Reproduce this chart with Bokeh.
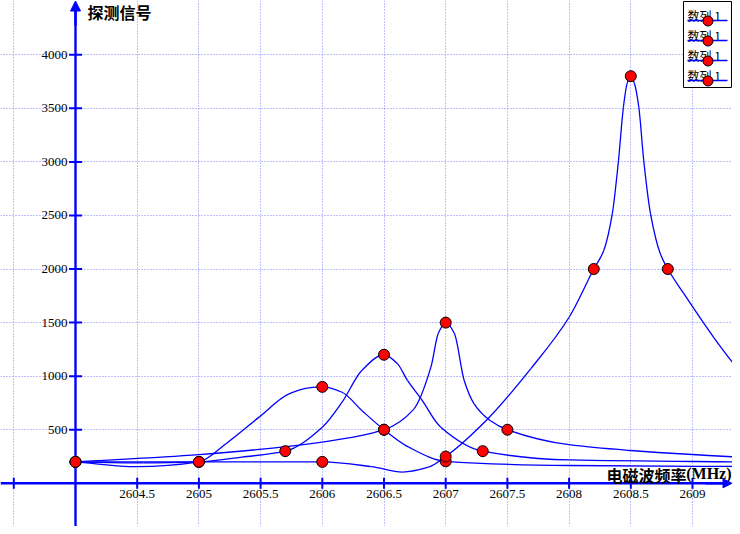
import numpy as np
from bokeh.plotting import figure
from bokeh.models import Range1d, Grid, FixedTicker, Arrow, NormalHead
from bokeh.core.properties import value
from bokeh.embed import file_html
from bokeh.resources import INLINE

# ---------------- data ----------------
# curve traces (marked points included)
a_curve_x = [2604, 2604.5, 2605, 2605.22, 2605.49, 2605.73, 2605.89, 2606, 2606.16, 2606.32, 2606.5, 2606.7, 2607, 2608, 2609.4, 2609.6]
a_curve_y = [200, 155, 200, 370, 620, 835, 890, 900, 850, 680, 500, 337, 205, 166, 157, 156]

b_curve_x = [2604, 2604.55, 2605, 2605.35, 2605.7, 2606, 2606.16, 2606.32, 2606.5, 2606.61, 2606.69, 2606.8, 2606.96, 2607.3, 2608, 2609.4, 2609.6]
b_curve_y = [200, 190, 200, 245, 300, 524, 757, 1053, 1200, 1115, 960, 790, 524, 300, 218, 200, 198]

c_curve_x = [2604, 2605, 2606, 2606.5, 2606.74, 2606.88, 2606.94, 2607, 2607.07, 2607.15, 2607.23, 2607.36, 2607.5, 2608, 2608.5, 2609.4, 2609.6]
c_curve_y = [200, 268, 385, 500, 690, 1084, 1400, 1500, 1400, 959, 742, 587, 500, 360, 306, 244, 236]

d_curve_x = [2604, 2606, 2606.4, 2606.65, 2606.86, 2607, 2607.34, 2607.69, 2608, 2608.2, 2608.28, 2608.35, 2608.4, 2608.44, 2608.47, 2608.5, 2608.53, 2608.565, 2608.605, 2608.66, 2608.74, 2608.8, 2608.93, 2609.17, 2609.39, 2609.6]
d_curve_y = [200, 200, 155, 105, 150, 250, 600, 1070, 1550, 2000, 2170, 2515, 3010, 3510, 3730, 3800, 3730, 3510, 3010, 2515, 2140, 2000, 1770, 1365, 1037, 800]

# marked points
a_pts_x = [2604, 2605, 2606, 2606.5, 2607]
a_pts_y = [200, 200, 900, 500, 205]
b_pts_x = [2605, 2605.7, 2606.5, 2607.3]
b_pts_y = [200, 300, 1200, 300]
c_pts_x = [2604, 2606.5, 2607, 2607.5]
c_pts_y = [200, 500, 1500, 500]
d_pts_x = [2604, 2606, 2607, 2608.2, 2608.5, 2608.8]
d_pts_y = [200, 200, 250, 2000, 3800, 2000]

x_grid_ticks = [2603.5, 2604.5, 2605, 2605.5, 2606, 2606.5, 2607, 2607.5, 2608, 2608.5, 2609]
y_grid_ticks = [500, 1000, 1500, 2000, 2500, 3000, 3500, 4000]
x_tick_marks = [2603.5, 2604.5, 2605, 2605.5, 2606, 2606.5, 2607, 2607.5, 2608, 2608.5, 2609]
x_label_pos = [2604.5, 2605, 2605.5, 2606, 2606.5, 2607, 2607.5, 2608, 2608.5, 2609]
x_labels = ["2604.5", "2605", "2605.5", "2606", "2606.5", "2607", "2607.5", "2608", "2608.5", "2609"]
y_label_pos = [500, 1000, 1500, 2000, 2500, 3000, 3500, 4000]
y_labels = ["500", "1000", "1500", "2000", "2500", "3000", "3500", "4000"]

y_title = "探测信号"
x_title_cn = "电磁波频率"
x_title_unit = "(MHz)"
legend_labels = ["数列 1", "数列 1", "数列 1", "数列 1"]

X_ORIGIN = 2604
Y_ORIGIN = 0

# ---------------- pixel <-> data helpers ----------------
PX_PER_X = 123.4
PX_PER_Y = 0.10714
SX0 = 75.0     # px of x = 2604
SY0 = 482.8    # px of y = 0


def sx(s):
    return X_ORIGIN + (s - SX0) / PX_PER_X


def sy(s):
    return (SY0 - s) / PX_PER_Y


def pchip_slopes(x, y):
    x = np.asarray(x, float)
    y = np.asarray(y, float)
    h = np.diff(x)
    d = np.diff(y) / h
    n = len(x)
    m = np.zeros(n)
    m[0] = d[0]
    m[-1] = d[-1]
    for k in range(1, n - 1):
        if d[k - 1] * d[k] <= 0:
            m[k] = 0.0
        else:
            w1 = 2 * h[k] + h[k - 1]
            w2 = h[k] + 2 * h[k - 1]
            m[k] = (w1 + w2) / (w1 / d[k - 1] + w2 / d[k])
    return m


def bezier_data(x, y):
    x = np.asarray(x, float)
    y = np.asarray(y, float)
    m = pchip_slopes(x, y)
    h = np.diff(x)
    return dict(
        x0=x[:-1], y0=y[:-1], x1=x[1:], y1=y[1:],
        cx0=x[:-1] + h / 3, cy0=y[:-1] + m[:-1] * h / 3,
        cx1=x[1:] - h / 3, cy1=y[1:] - m[1:] * h / 3,
    )


W, H = 732, 526
p = figure(width=W, height=H,
           x_range=Range1d(sx(0), sx(W)), y_range=Range1d(sy(H), sy(0)),
           output_backend="svg", toolbar_location=None, min_border=0,
           x_axis_location=None, y_axis_location=None)
p.outline_line_color = None
p.background_fill_color = "white"
p.grid.visible = False

GRID_COLOR = "#8080ff"
p.add_layout(Grid(dimension=0, ticker=FixedTicker(ticks=x_grid_ticks),
                  grid_line_color=GRID_COLOR, grid_line_dash="1 2", grid_line_width=1))
p.add_layout(Grid(dimension=1, ticker=FixedTicker(ticks=y_grid_ticks),
                  grid_line_color=GRID_COLOR, grid_line_dash="1 2", grid_line_width=1))

AXIS_BLUE = "#0000ff"
# axis lines
p.segment(x0=[sx(0)], y0=[Y_ORIGIN], x1=[sx(722)], y1=[Y_ORIGIN], line_color=AXIS_BLUE, line_width=2.6)
p.segment(x0=[X_ORIGIN], y0=[sy(H)], x1=[X_ORIGIN], y1=[sy(8)], line_color=AXIS_BLUE, line_width=2.4)
# tick marks
p.scatter(x=x_tick_marks, y=[Y_ORIGIN] * len(x_tick_marks), marker="dash", size=11,
          angle=np.pi / 2, line_color=AXIS_BLUE, line_width=2)
p.scatter(x=[X_ORIGIN] * len(y_label_pos), y=y_label_pos, marker="dash", size=13,
          line_color=AXIS_BLUE, line_width=2)
# arrows
p.add_layout(Arrow(end=NormalHead(size=10, fill_color=AXIS_BLUE, line_color=AXIS_BLUE, line_width=1),
                   x_start=X_ORIGIN, y_start=sy(25), x_end=X_ORIGIN, y_end=sy(0.5),
                   line_color=AXIS_BLUE, line_width=2.4))
p.add_layout(Arrow(end=NormalHead(size=9, fill_color=AXIS_BLUE, line_color=AXIS_BLUE, line_width=1),
                   x_start=sx(705), y_start=Y_ORIGIN, x_end=sx(731.5), y_end=Y_ORIGIN,
                   line_color=AXIS_BLUE, line_width=2.6))

# tick labels
SERIF = value("Liberation Serif")
p.text(x=x_label_pos, y=[sy(489)] * len(x_label_pos), text=x_labels, text_font=SERIF,
       text_font_size="13px", text_align="center", text_baseline="top", text_color="black")
p.text(x=[sx(67)] * len(y_label_pos), y=y_label_pos, text=y_labels, text_font=SERIF,
       text_font_size="13px", text_align="right", text_baseline="middle", text_color="black")

# titles
CJK = value("Noto Sans CJK SC")
p.text(x=[sx(87)], y=[sy(-1)], text=[y_title], text_font=CJK, text_font_size="16px",
       text_font_style="bold", text_align="left", text_baseline="top", text_color="black")
p.text(x=[sx(686)], y=[sy(474)], text=[x_title_cn], text_font=CJK, text_font_size="16px",
       text_font_style="bold", text_align="right", text_baseline="alphabetic", text_color="black")
p.text(x=[sx(731)], y=[sy(473)], text=[x_title_unit], text_font=SERIF, text_font_size="16px",
       text_font_style="bold", text_align="right", text_baseline="alphabetic", text_color="black")

# curves
CURVE = "#0000ff"
for cx, cy in [(a_curve_x, a_curve_y), (b_curve_x, b_curve_y), (c_curve_x, c_curve_y), (d_curve_x, d_curve_y)]:
    p.bezier(source=bezier_data(cx, cy), x0="x0", y0="y0", x1="x1", y1="y1",
             cx0="cx0", cy0="cy0", cx1="cx1", cy1="cy1", line_color=CURVE, line_width=1.3)

# markers
for px_, py_ in [(a_pts_x, a_pts_y), (b_pts_x, b_pts_y), (c_pts_x, c_pts_y), (d_pts_x, d_pts_y)]:
    p.scatter(x=px_, y=py_, marker="circle", size=11, fill_color="#ff0000",
              line_color="black", line_width=1)

# legend (drawn by hand to match the reference layout)
LX = 683
p.quad(left=[sx(LX)], right=[sx(LX + 48)], top=[sy(1)], bottom=[sy(87)],
       fill_color="white", line_color="black", line_width=1)
line_rows = [20, 40, 60, 80]
p.text(x=[sx(LX + 4)] * 4, y=[sy(r - 14) for r in line_rows], text=legend_labels, text_font=CJK,
       text_font_size="12px", text_align="left", text_baseline="top", text_color="black")
p.segment(x0=[sx(LX + 4)] * 4, x1=[sx(LX + 44)] * 4, y0=[sy(r) for r in line_rows],
          y1=[sy(r) for r in line_rows], line_color=CURVE, line_width=1.3)
p.scatter(x=[sx(LX + 24.5)] * 4, y=[sy(r + 0.5) for r in line_rows], marker="circle", size=10,
          fill_color="#ff0000", line_color="black", line_width=1)

open("out.html", "w").write(file_html(p, INLINE))
